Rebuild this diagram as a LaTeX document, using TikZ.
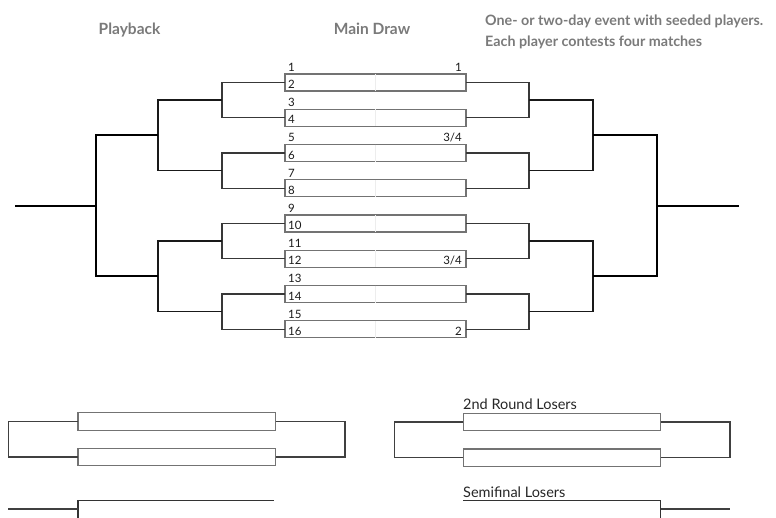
\documentclass[tikz,border=0pt]{standalone}
\usepackage{fontspec}
\setmainfont{Lato}
\begin{document}
\begin{tikzpicture}[x=1pt,y=-1pt,
  slot/.style={draw=black!55, line width=1.1pt, minimum width=181pt, minimum height=17pt, inner sep=0pt, outer sep=0pt, anchor=north west},
  lslot/.style={slot, minimum width=197.5pt, minimum height=17.5pt},
  num/.style={font=\fontsize{11.5}{13}\selectfont, text=black!90, inner sep=0pt},
  head/.style={font=\fontsize{15.5}{21.5}\selectfont\bfseries, text=black!52, inner sep=0pt},
  headr/.style={font=\fontsize{14.3}{21.7}\selectfont\bfseries, text=black!52, inner sep=0pt},
  sub/.style={font=\fontsize{14.5}{16}\selectfont, text=black!85, inner sep=0pt, anchor=base west},
  c1/.style={draw=black!78, line width=1.2pt},
  c2/.style={draw=black!90, line width=1.5pt},
  c3/.style={draw=black, line width=1.9pt},
  lo/.style={draw=black!75, line width=1.2pt},
  mid/.style={draw=black!7, line width=0.5pt}
]
\useasboundingbox (0,0) rectangle (776,517);

% headings
\node[head, anchor=base] (hp) at (129.5,34) {Playback};
\node[head, anchor=base] (hm) at (372,34) {Main Draw};
\node[headr, anchor=base west, align=left] (hr1) at (485,25) {One- or two-day event with seeded players.};
\node[headr, anchor=base west, align=left] (hr2) at (485,46.7) {Each player contests four matches};

% main draw boxes and seeds
\foreach \k in {1,...,8}{
  \pgfmathsetmacro{\t}{74+35.25*(\k-1)}
  \pgfmathtruncatemacro{\odd}{2*\k-1}
  \pgfmathtruncatemacro{\even}{2*\k}
  \node[slot] (m\k) at (285,\t) {};
  \draw[mid] (m\k.north) -- (m\k.south);
  \node[num, anchor=base west] (o\k) at (288,\t-2.7) {\odd};
  \node[num, anchor=base west] (e\k) at (288,\t+14.5) {\even};
}
\node[num, anchor=base east] (r1) at (462,74-2.7) {1};
\node[num, anchor=base east] (r3) at (462,144.5-2.7) {3/4};
\node[num, anchor=base east] (r6) at (462,250.25+14.5) {3/4};
\node[num, anchor=base east] (r8) at (462,320.75+14.5) {2};

% left bracket
\coordinate (la1) at (222,100.125);
\coordinate (la2) at (222,170.625);
\coordinate (la3) at (222,241.125);
\coordinate (la4) at (222,311.625);
\coordinate (lb1) at (158,135.375);
\coordinate (lb2) at (158,276.375);
\coordinate (lc) at (96,205.875);
\coordinate (lend) at (15,205.875);
% right bracket
\coordinate (ra1) at (529,100.125);
\coordinate (ra2) at (529,170.625);
\coordinate (ra3) at (529,241.125);
\coordinate (ra4) at (529,311.625);
\coordinate (rb1) at (593,135.375);
\coordinate (rb2) at (593,276.375);
\coordinate (rc) at (657,205.875);
\coordinate (rend) at (739,205.875);

\foreach \p/\a/\b in {1/1/2,2/3/4,3/5/6,4/7/8}{
  \draw[c1] (m\a.west) -| (la\p) |- (m\b.west);
  \draw[c1] (m\a.east) -| (ra\p) |- (m\b.east);
}
\draw[c2] (la1) -| (lb1) |- (la2);
\draw[c2] (la3) -| (lb2) |- (la4);
\draw[c2] (ra1) -| (rb1) |- (ra2);
\draw[c2] (ra3) -| (rb2) |- (ra4);
\draw[c3] (lb1) -| (lc) |- (lb2);
\draw[c3] (rb1) -| (rc) |- (rb2);
\draw[c3] (lc) -- (lend);
\draw[c3] (rc) -- (rend);

% playback (bottom left)
\node[lslot] (p1) at (78,412.7) {};
\node[lslot] (p2) at (78,448.3) {};
\coordinate (pl) at (8.3,439.25);
\coordinate (pr) at (345,439.25);
\draw[lo] (p1.west) -| (pl) |- (p2.west);
\draw[lo] (p1.east) -| (pr) |- (p2.east);
\coordinate (pc1) at (78,518);
\coordinate (pc2) at (78,500.7);
\coordinate (pc3) at (274,500.7);
\coordinate (pc4) at (78,509);
\coordinate (pc5) at (8,509);
\draw[draw=black!80, line width=1.2pt] (pc1) -- (pc2) -- (pc3);
\draw[lo] (pc5) -- (pc4);

% losers (bottom right)
\node[sub] (t2) at (463,409.3) {2nd Round Losers};
\node[lslot] (q1) at (463.3,413.3) {};
\node[lslot] (q2) at (463.3,449) {};
\coordinate (ql) at (394.3,439.7);
\coordinate (qr) at (730,439.7);
\draw[lo] (q1.west) -| (ql) |- (q2.west);
\draw[lo] (q1.east) -| (qr) |- (q2.east);
\node[sub] (t3) at (463,497.3) {Semifinal Losers};
\coordinate (qf1) at (463,500.7);
\coordinate (qf2) at (660.7,500.7);
\coordinate (qf3) at (660.7,518);
\coordinate (qf4) at (660.7,509);
\coordinate (qf5) at (730,509);
\draw[draw=black!80, line width=1.2pt] (qf1) -- (qf2) -- (qf3);
\draw[lo] (qf4) -- (qf5);
\end{tikzpicture}
\end{document}
